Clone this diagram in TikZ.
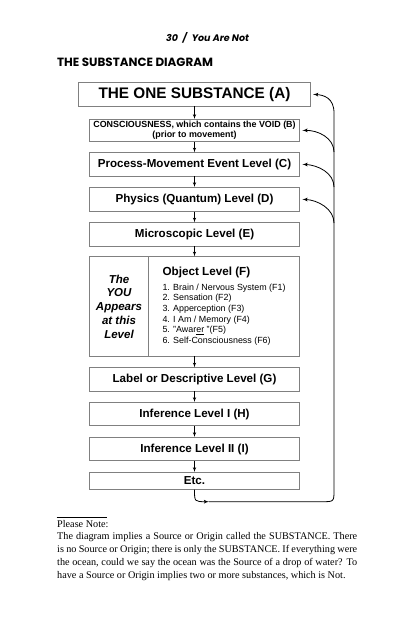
\documentclass[tikz,border=0pt]{standalone}
\usepackage{fontspec}
\setmainfont{Liberation Serif}
\setsansfont{Liberation Sans}
\newfontfamily\futura{Poppins}
\usetikzlibrary{arrows}

\begin{document}
\begin{tikzpicture}[x=1pt,y=-1pt]
\tikzset{level/.style = {shape=rectangle,draw=black!50,line width=0.8pt,minimum width=210pt,minimum height=23.3pt,inner sep=0pt,font=\sffamily\bfseries\fontsize{11.6}{13}\selectfont}}
\tikzset{edge/.style = {->,> = latex',line width=0.6pt}}
\tikzset{back/.style = {->,> = latex',line width=0.8pt}}
\useasboundingbox (0,0) rectangle (414,640);
\node[font=\futura\bfseries\itshape\fontsize{9.5}{11}\selectfont] (page) at (207.5,37.7) {30\enspace/\enspace You Are Not};
\node[anchor=west,inner sep=0pt,font=\futura\bfseries\fontsize{11.9}{13}\selectfont] (title) at (57,62) {THE SUBSTANCE DIAGRAM};

\node[level,minimum width=232.4pt,font=\sffamily\bfseries\fontsize{15.3}{17}\selectfont] (a) at (194.5,94.3) {THE ONE SUBSTANCE (A)};
\node[level,minimum height=22.4pt,align=center,font=\sffamily\bfseries\fontsize{8.9}{10}\selectfont] (b) at (194.5,130.5) {CONSCIOUSNESS, which contains the VOID (B)\\(prior to movement)};
\node[level] (c) at (194.5,164.3) {Process-Movement Event Level (C)};
\node[level,minimum height=24pt] (d) at (194.5,199.3) {Physics (Quantum) Level (D)};
\node[level] (e) at (194.5,234.3) {Microscopic Level (E)};
\node[level,minimum height=99.3pt] (f) at (194.5,306.3) {};
\node[level] (g) at (194.5,379.3) {Label or Descriptive Level (G)};
\node[level] (h) at (194.5,414) {Inference Level I (H)};
\node[level] (i) at (194.5,449) {Inference Level II (I)};
\node[level,minimum height=17pt] (etc) at (194.5,480.8) {Etc.};

\draw[draw=black!50,line width=0.8pt] ([xshift=58.8pt]f.north west) -- ([xshift=58.8pt]f.south west);
\node[align=center,inner sep=0pt,font=\sffamily\bfseries\itshape\fontsize{11.5}{13.7}\selectfont] (you) at (119,306.5) {The\\YOU\\Appears\\at this\\Level};
\node[anchor=west,inner sep=0pt,font=\sffamily\bfseries\fontsize{11.7}{13}\selectfont] (obj) at (162.3,272.7) {Object Level (F)};
\node[anchor=west,inner sep=0pt,align=left,font=\sffamily\fontsize{8.9}{10.7}\selectfont] (list) at (162.3,314.5) {1. Brain / Nervous System (F1)\\2. Sensation (F2)\\3. Apperception (F3)\\4. I Am / Memory (F4)\\5. "Awar\underline{er} "(F5)\\6. Self-Consciousness (F6)};

\draw[edge] (a) -- (b);
\draw[edge] (b) -- (c);
\draw[edge] (c) -- (d);
\draw[edge] (d) -- (e);
\draw[edge] (e) -- (f);
\draw[edge] (f) -- (g);
\draw[edge] (g) -- (h);
\draw[edge] (h) -- (i);
\draw[edge] (i) -- (etc);

\coordinate (lb) at (209,501.7);
\coordinate (rb) at (334,490);
\coordinate (jb) at (334,152);
\coordinate (jc) at (334,187);
\coordinate (jd) at (334,223);
\draw[back] (etc.south) .. controls (194.5,501.7) .. (lb);
\draw[back] (lb) -- (322,501.7) .. controls (334,501.7) .. (rb) -- (334,113) .. controls (334,98) and (324,95) .. ([xshift=2pt]a.east);
\draw[back] (jb) .. controls (334,138) and (318,130) .. ([xshift=2.5pt]b.east);
\draw[back] (jc) .. controls (334,173) and (318,165) .. ([xshift=2.5pt]c.east);
\draw[back] (jd) .. controls (334,209) and (318,200) .. ([xshift=2.5pt]d.east);

\draw[line width=0.5pt] (56.7,517.3) -- (106.7,517.3);
\node[anchor=north west,inner sep=0pt,align=left,font=\fontsize{10.2}{12.7}\selectfont] (note) at (57,520) {Please Note:\\\makebox[300pt][s]{The diagram implies a Source or Origin called the SUBSTANCE. There}\\\makebox[300pt][s]{is no Source or Origin; there is only the SUBSTANCE. If everything were}\\\makebox[300pt][s]{the ocean, could we say the ocean was the Source of a drop of water? To}\\have a Source or Origin implies two or more substances, which is Not.};
\end{tikzpicture}
\end{document}
